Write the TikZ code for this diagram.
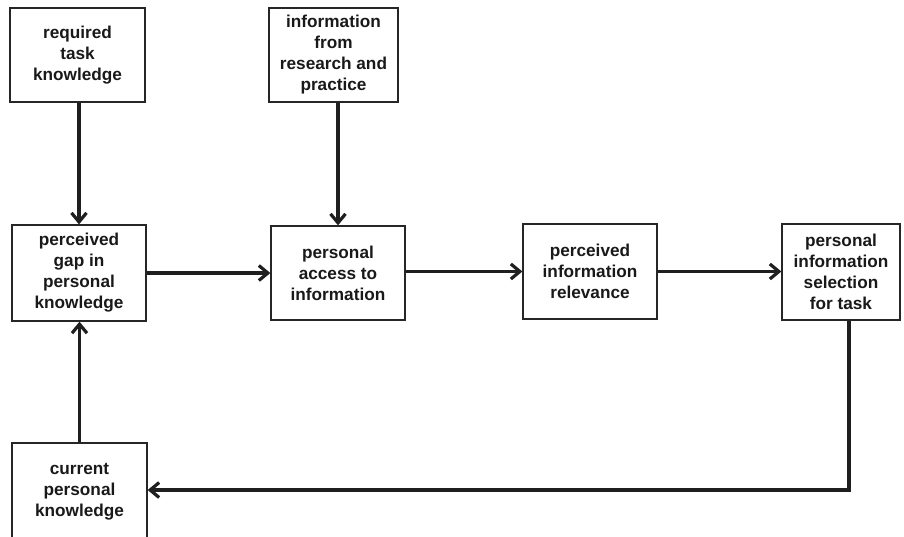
\documentclass[tikz,border=0pt]{standalone}
\usepackage{fontspec}
\setmainfont{Liberation Sans}
\usetikzlibrary{arrows.meta}
\begin{document}
\begin{tikzpicture}[x=1pt,y=-1pt,
  box/.style={draw=black!85, line width=1.3pt, fill=white, align=center, inner sep=0pt,
    font=\bfseries\fontsize{17.2}{21}\selectfont, text=black!90},
  conn/.style={line width=3.4pt, draw=black!88, -{Straight Barb[length=9pt,width=15pt,line width=3.2pt]}}
]
\clip (0,0) rectangle (904,536);
\fill[white] (0,0) rectangle (904,536);
\node[box, minimum width=135pt, minimum height=94pt] (req) at (77.5,55) {required\\task\\knowledge};
\node[box, minimum width=129pt, minimum height=94pt] (info) at (333.5,55) {information\\from\\research and\\practice};
\node[box, minimum width=134pt, minimum height=96pt] (gap) at (79,273) {perceived\\gap in\\personal\\knowledge};
\node[box, minimum width=134pt, minimum height=94pt] (acc) at (338,273) {personal\\access to\\information};
\node[box, minimum width=134pt, minimum height=95pt] (rel) at (590,271.5) {perceived\\information\\relevance};
\node[box, minimum width=118pt, minimum height=96pt] (sel) at (841,272) {personal\\information\\selection\\for task};
\node[box, minimum width=135pt, minimum height=98pt] (cur) at (79.5,492) {current\\personal\\knowledge};
\coordinate (corner) at (849,490);
\draw[conn] (gap.north |- req.south) -- (gap.north);
\draw[conn] (acc.north |- info.south) -- (acc.north);
\draw[conn] (gap.east |- acc.west) -- (acc.west);
\draw[conn] (acc.east |- rel.west) -- (rel.west);
\draw[conn] (rel.east) -- (rel.east -| sel.west);
\draw[conn] (sel.south -| corner) -- (corner) -- (cur.east |- corner);
\draw[conn] (cur.north) -- (cur.north |- gap.south);
\end{tikzpicture}
\end{document}
